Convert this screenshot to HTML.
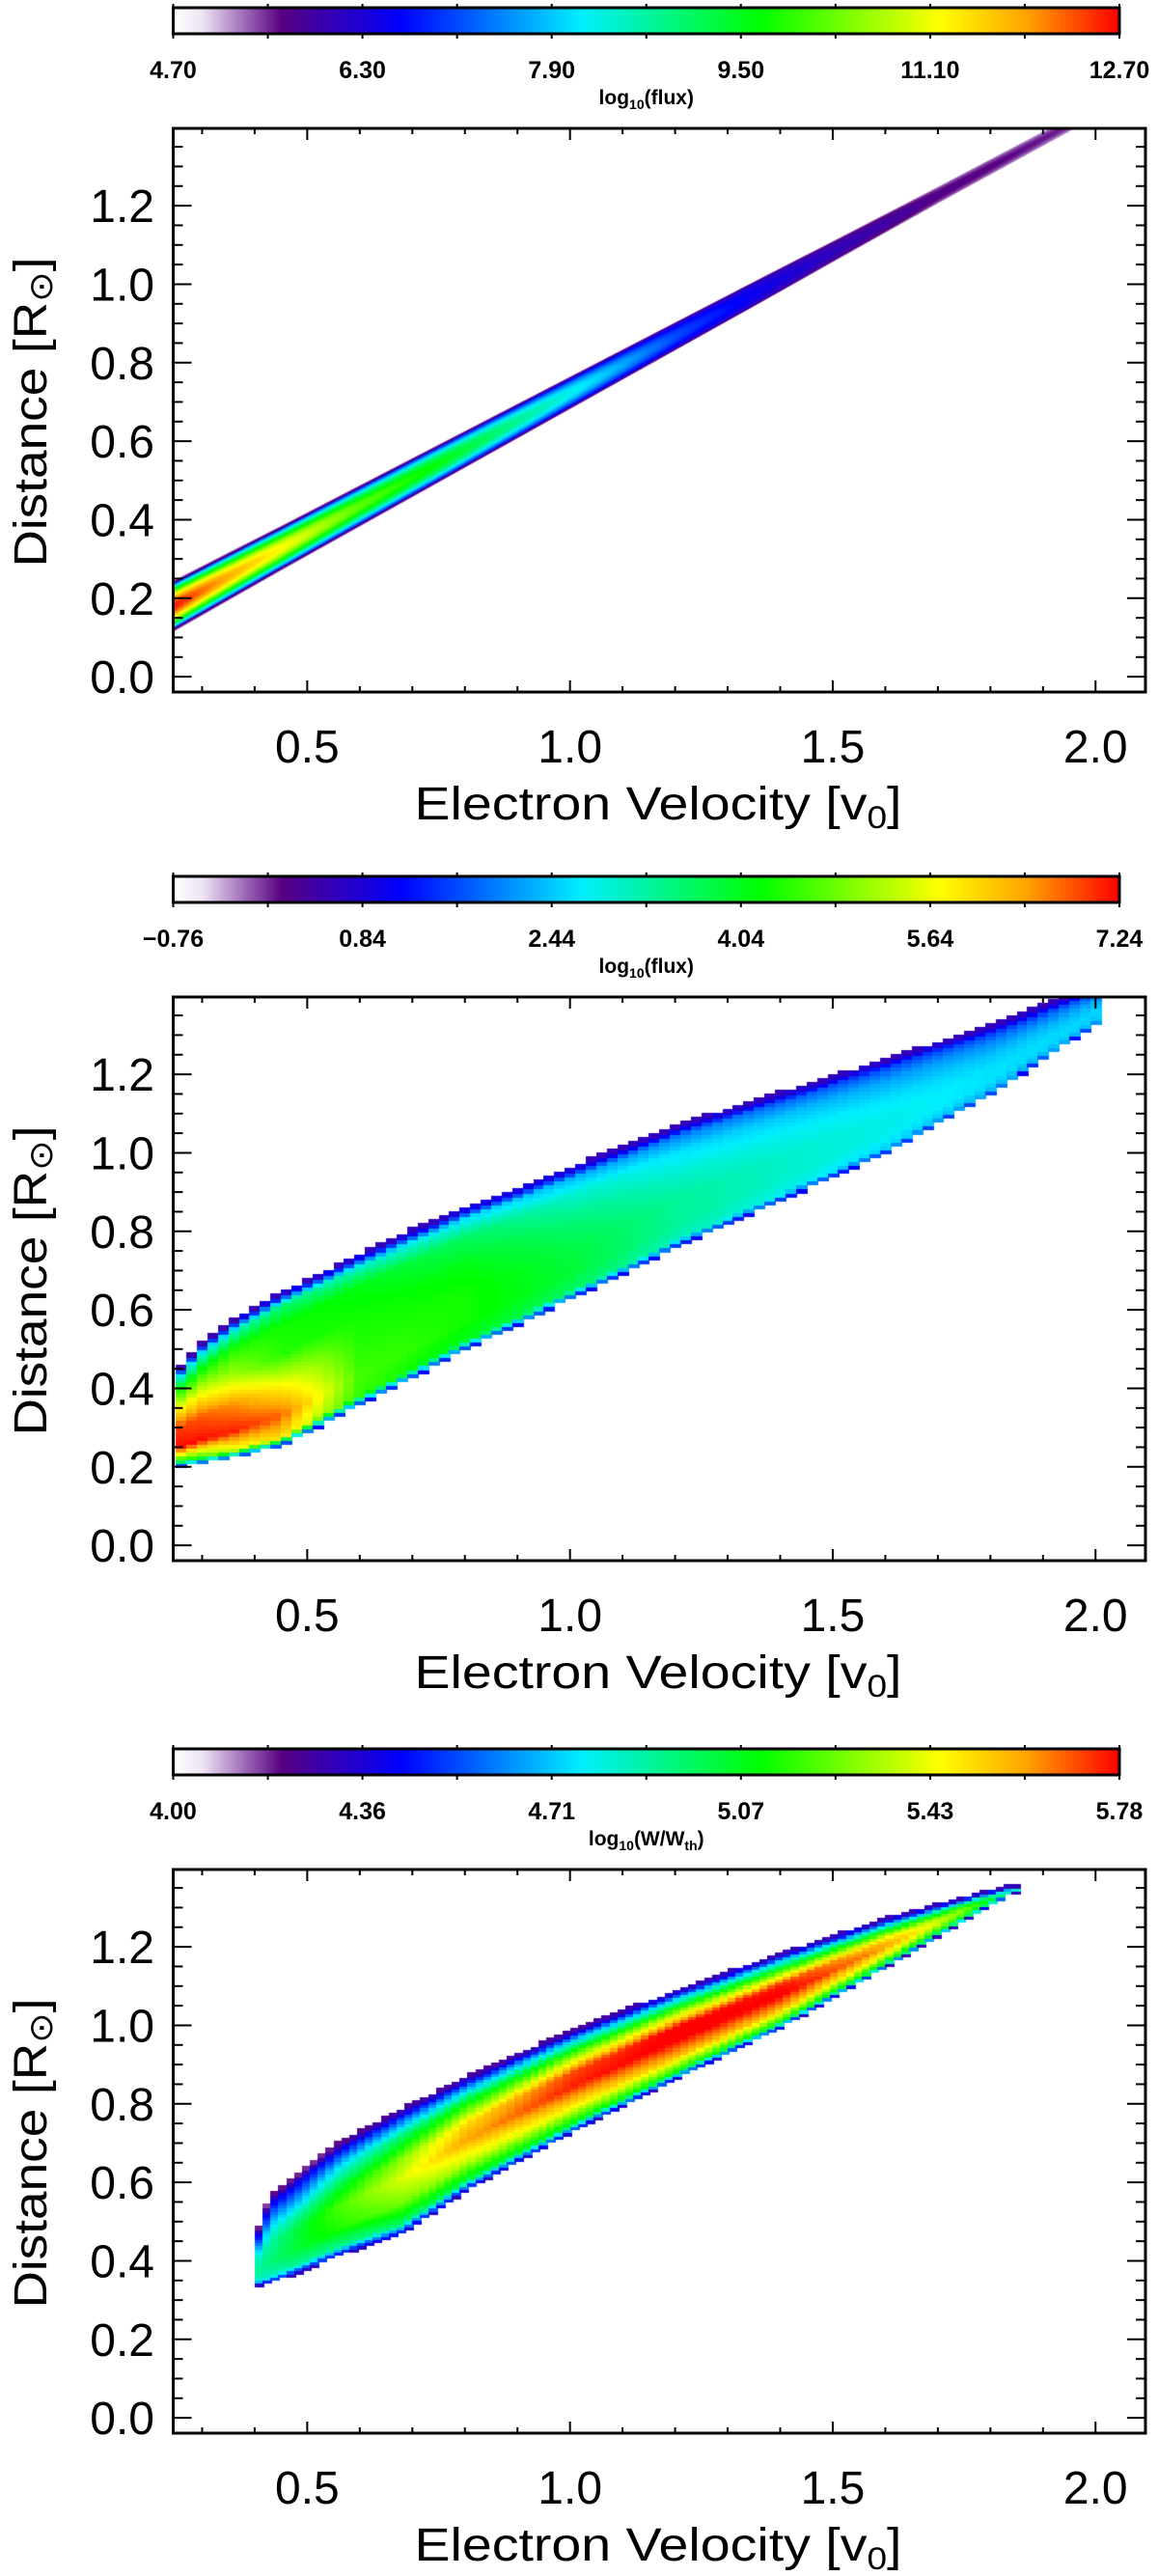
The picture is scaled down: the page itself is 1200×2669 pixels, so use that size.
<!DOCTYPE html>
<html><head><meta charset="utf-8">
<style>
html,body{margin:0;padding:0;background:#fff;}
#wrap{position:relative;width:1200px;height:2669px;overflow:hidden;background:#fff;}
canvas{position:absolute;}
svg{position:absolute;left:0;top:0;}
text{font-family:"Liberation Sans","DejaVu Sans",sans-serif;fill:#000;}
</style></head>
<body>
<div id="wrap">
<canvas id="cb0"></canvas>
<canvas id="cb1"></canvas>
<canvas id="cb2"></canvas>
<canvas id="hm0"></canvas>
<canvas id="hm1"></canvas>
<canvas id="hm2"></canvas>
<svg id="ov" width="1200" height="2669"></svg>
</div>
<script>
// ---------- data ----------
// Panel 1 (smooth band): log10(flux)
const p1Vel = [0.245,0.35,0.45,0.6,0.75,0.9,1.05,1.2,1.35,1.5,1.7,1.97];
const p1Center = [0.18,0.256,0.328,0.436,0.544,0.652,0.76,0.868,0.976,1.084,1.228,1.422];
const p1HalfWidth = [0.062,0.058,0.054,0.05,0.046,0.042,0.038,0.034,0.03,0.026,0.022,0.019];
const p1Peak = [12.6,11.8,11.2,10.2,9.6,8.8,8.0,7.1,6.5,6.1,5.7,5.5];
const cbTicks1 = ['4.70','6.30','7.90','9.50','11.10','12.70'];

// Panel 2 (gridded): log10(flux)
const p2Vel = [0.25,0.3,0.36,0.45,0.6,0.8,1.0,1.2,1.4,1.6,1.8,2.0];
const p2Lower = [0.20,0.21,0.225,0.255,0.36,0.50,0.628,0.76,0.88,1.0,1.15,1.33];
const p2Upper = [0.44,0.515,0.575,0.64,0.74,0.86,0.959,1.065,1.15,1.235,1.32,1.42];
const p2Knots = [0,0.06,0.2,0.4,0.6,0.8,0.93,1];
const p2Values = [
 [1.0,4.0,7.2,7.0,5.8,4.2,2.7,0.5],
 [1.0,4.5,7.2,6.8,5.6,4.2,2.7,0.5],
 [1.0,5.5,7.1,6.5,5.2,4.3,3.0,0.5],
 [1.0,6.0,6.8,5.8,4.4,4.3,3.5,0.6],
 [1.0,4.5,4.6,4.4,4.3,4.1,3.0,0.6],
 [1.0,4.0,4.3,4.3,4.1,3.6,2.6,0.6],
 [1.0,3.6,3.9,3.8,3.5,3.0,2.3,0.6],
 [1.0,3.1,3.3,3.3,3.0,2.6,2.0,0.6],
 [1.0,2.8,3.0,3.0,2.8,2.4,1.8,0.6],
 [1.0,2.5,2.8,2.8,2.6,2.2,1.6,0.6],
 [1.0,2.3,2.6,2.6,2.4,2.0,1.5,0.6],
 [1.0,2.2,2.5,2.5,2.3,1.9,1.4,0.6]];
const cbTicks2 = ['\u22120.76','0.84','2.44','4.04','5.64','7.24'];

// Panel 3 (gridded): log10(W/Wth)
const p3Vel = [0.40,0.43,0.49,0.56,0.68,0.8,1.0,1.2,1.4,1.6,1.75,1.84];
const p3Lower = [0.337,0.345,0.375,0.415,0.47,0.58,0.728,0.865,0.995,1.15,1.27,1.34];
const p3Upper = [0.455,0.568,0.63,0.70,0.785,0.865,0.983,1.085,1.18,1.27,1.325,1.355];
const p3Knots = [0,0.08,0.25,0.45,0.6,0.8,0.93,1];
const p3Values = [
 [4.3,4.8,4.9,4.85,4.75,4.5,4.35,4.2],
 [4.3,4.85,4.95,4.9,4.8,4.55,4.35,4.15],
 [4.3,4.9,5.05,5.05,4.9,4.6,4.4,4.15],
 [4.3,4.9,5.15,5.2,5.05,4.75,4.45,4.2],
 [4.3,4.95,5.25,5.4,5.3,4.95,4.55,4.25],
 [4.3,5.0,5.35,5.6,5.5,5.05,4.6,4.25],
 [4.3,5.05,5.45,5.75,5.7,5.15,4.65,4.25],
 [4.3,5.1,5.55,5.8,5.78,5.2,4.7,4.3],
 [4.3,5.1,5.55,5.8,5.75,5.15,4.7,4.3],
 [4.3,5.0,5.4,5.62,5.5,5.05,4.6,4.3],
 [4.3,4.85,5.15,5.3,5.2,4.9,4.5,4.3],
 [4.3,4.6,4.8,4.85,4.8,4.6,4.4,4.3]];
const cbTicks3 = ['4.00','4.36','4.71','5.07','5.43','5.78'];

const xTickLabels = ['0.5','1.0','1.5','2.0'];
const yTickLabels = ['0.0','0.2','0.4','0.6','0.8','1.0','1.2'];

// ---------- geometry ----------
const OFFS = [0, 900, 1804];
const X0 = 179.5, X1 = 1187, Y0 = 133, Y1 = 717;
const VMIN = 0.245, VMAX = 2.095, DMIN = -0.039, DMAX = 1.397;
const CBX0 = 179.5, CBX1 = 1160, CBY0 = 8, CBY1 = 35;
const RANGES = [[4.70,12.70],[-0.76,7.24],[4.00,5.78]];
function xs(v){ return X0 + (v-VMIN)/(VMAX-VMIN)*(X1-X0); }
function ys(d,o){ return o + Y1 - (d-DMIN)/(DMAX-DMIN)*(Y1-Y0); }

const STOPS = [[0,255,255,255],[0.03,238,228,244],[0.114,88,0,130],[0.24,0,0,255],[0.43,0,238,255],[0.62,0,255,0],[0.81,255,255,0],[0.9,255,165,0],[1,255,0,0]];
function cmap(f){
  f = Math.max(0, Math.min(1, f));
  for (let i=1;i<STOPS.length;i++){
    if (f <= STOPS[i][0]){
      const a=STOPS[i-1], b=STOPS[i], t=(f-a[0])/(b[0]-a[0]);
      return [a[1]+(b[1]-a[1])*t, a[2]+(b[2]-a[2])*t, a[3]+(b[3]-a[3])*t];
    }
  }
  return [255,0,0];
}
function interp(xa, ya, x){
  if (x <= xa[0]) return ya[0];
  if (x >= xa[xa.length-1]) return ya[ya.length-1];
  for (let i=1;i<xa.length;i++){
    if (x <= xa[i]){ const t=(x-xa[i-1])/(xa[i]-xa[i-1]); return ya[i-1]+(ya[i]-ya[i-1])*t; }
  }
}
function prof(velArr, vals, knots, v, t){
  const col = knots.map((_,k)=> interp(velArr, vals.map(r=>r[k]), v));
  return interp(knots, col, t);
}

// ---------- colorbars ----------
for (let p=0;p<3;p++){
  const c = document.getElementById('cb'+p);
  const w = Math.round(CBX1-CBX0), h = CBY1-CBY0;
  c.width = w; c.height = h;
  c.style.left = CBX0+'px'; c.style.top = (OFFS[p]+CBY0)+'px';
  const ctx = c.getContext('2d');
  for (let i=0;i<w;i++){
    const rgb = cmap(i/(w-1));
    ctx.fillStyle = 'rgb('+rgb.map(Math.round).join(',')+')';
    ctx.fillRect(i,0,1,h);
  }
}

// ---------- heatmaps ----------
function setupCanvas(id, o){
  const c = document.getElementById(id);
  c.width = Math.round(X1-X0); c.height = Y1-Y0;
  c.style.left = X0+'px'; c.style.top = (o+Y0)+'px';
  return c.getContext('2d');
}
(function(){
  const o = OFFS[0], ctx = setupCanvas('hm0', o);
  const W = Math.round(X1-X0), H = Y1-Y0;
  const img = ctx.createImageData(W,H);
  const [lo,hi] = RANGES[0];
  for (let px=0; px<W; px++){
    const v = VMIN + (px+0.5)/W*(VMAX-VMIN);
    if (v < p1Vel[0] - 0.01 || v > p1Vel[p1Vel.length-1]) continue;
    const c = interp(p1Vel,p1Center,v), hw = interp(p1Vel,p1HalfWidth,v), pk = interp(p1Vel,p1Peak,v);
    const edge = pk > 6.6 ? 6.0 : pk - 0.5;
    for (let py=0; py<H; py++){
      const d = DMAX - (py+0.5)/H*(DMAX-DMIN);
      const u = Math.abs(d-c)/hw;
      if (u > 1.08) continue;
      let val = pk - (pk-edge)*Math.min(1,u)*Math.min(1,u);
      if (u > 0.9) val = Math.min(val, edge - (u-0.9)*4);
      const rgb = cmap((val-lo)/(hi-lo));
      const a = u > 1 ? Math.max(0, 1-(u-1)/0.08) : 1;
      const idx = (py*W+px)*4;
      img.data[idx]=rgb[0]; img.data[idx+1]=rgb[1]; img.data[idx+2]=rgb[2]; img.data[idx+3]=255*a;
    }
  }
  ctx.putImageData(img,0,0);
})();
function gridPanel(id, o, vel, lower, upper, knots, vals, range, dv, dd){
  const ctx = setupCanvas(id, o);
  const [lo,hi] = range;
  for (let v = vel[0]; v <= vel[vel.length-1]+1e-9; v += dv){
    const vc = v + dv/2;
    const l = interp(vel,lower,vc), u = interp(vel,upper,vc);
    const x0 = xs(v) - X0, x1 = xs(v+dv) - X0;
    for (let d = Math.floor(l/dd)*dd; d <= u; d += dd){
      const dc = d + dd/2;
      if (dc < l || dc > u + dd*0.5) continue;
      const t = Math.max(0, Math.min(1, (dc-l)/(u-l)));
      const val = prof(vel, vals, knots, vc, t);
      const rgb = cmap((val-lo)/(hi-lo));
      ctx.fillStyle = 'rgb('+rgb.map(Math.round).join(',')+')';
      const ya = ys(d+dd,0) - Y0, yb = ys(d,0) - Y0;
      ctx.fillRect(Math.floor(x0), Math.floor(ya), Math.ceil(x1-x0)+1, Math.ceil(yb-ya)+1);
    }
  }
}
gridPanel('hm1', OFFS[1], p2Vel, p2Lower, p2Upper, p2Knots, p2Values, RANGES[1], 0.02, 0.01);
gridPanel('hm2', OFFS[2], p3Vel, p3Lower, p3Upper, p3Knots, p3Values, RANGES[2], 0.015, 0.008);

// ---------- axes overlay ----------
const NS = 'http://www.w3.org/2000/svg';
const svg = document.getElementById('ov');
function el(tag, attrs, parent){
  const e = document.createElementNS(NS, tag);
  for (const k in attrs) e.setAttribute(k, attrs[k]);
  (parent||svg).appendChild(e); return e;
}
function line(x1,y1,x2,y2,w,g){ return el('line',{x1:x1,y1:y1,x2:x2,y2:y2,stroke:'#000','stroke-width':w},g); }
const cbTickSets = [cbTicks1, cbTicks2, cbTicks3];
const cbTitles = [['log','10','(flux)'],['log','10','(flux)'],['log','10','(W/W','th',')']];

for (let p=0;p<3;p++){
  const o = OFFS[p];
  const g = el('g',{});
  
  
  const cbf = el('rect',{x:CBX0,y:o+CBY0,width:CBX1-CBX0,height:CBY1-CBY0,fill:'none',stroke:'#000','stroke-width':3},g);
  
  
  for (let i=0;i<=10;i++){
    const x = CBX0 + i/10*(CBX1-CBX0);
    line(x, o+CBY0-4, x, o+CBY0, 2, g);
    line(x, o+CBY1, x, o+CBY1+5, 2, g);
  }
  const labs = cbTickSets[p];
  for (let i=0;i<labs.length;i++){
    const x = CBX0 + i/(labs.length-1)*(CBX1-CBX0);
    const t = el('text',{x:x,y:o+81,'font-size':25,'text-anchor':'middle','font-weight':'bold'},g);
    t.textContent = labs[i];
    
    
  }
  const ct = el('text',{x:(CBX0+CBX1)/2,y:o+108,'font-size':21,'text-anchor':'middle','font-weight':'bold'},g);
  
  
  const parts = cbTitles[p];
  parts.forEach((s,i)=>{
    const ts = el('tspan', (i%2===1)?{'font-size':14,dy:5}:(i>0?{'font-size':21,dy:-5}:{}), ct);
    ts.textContent = s;
  });
  const fr = el('rect',{x:X0,y:o+Y0,width:X1-X0,height:Y1-Y0,fill:'none',stroke:'#000','stroke-width':3},g);
  
  
  for (let k=3;k<=20;k++){
    const v = k/10, x = xs(v), major = (k%5===0);
    const L = major ? 12 : 6;
    line(x, o+Y1, x, o+Y1-L, 2, g);
    line(x, o+Y0, x, o+Y0+L, 2, g);
  }
  xTickLabels.forEach(s=>{
    const t = el('text',{x:xs(parseFloat(s)),y:o+790,'font-size':48,'text-anchor':'middle'},g);
    t.textContent = s;
    
    
  });
  for (let k=0;k<=27;k++){
    const d = k*0.05, y = ys(d,o), major = (k%4===0);
    const L = major ? 19 : 10;
    line(X0, y, X0+L, y, 2, g);
    line(X1, y, X1-L, y, 2, g);
  }
  yTickLabels.forEach(s=>{
    const t = el('text',{x:160,y:ys(parseFloat(s),o)+17,'font-size':48,'text-anchor':'end'},g);
    t.textContent = s;
    
    
  });
  const xt = el('text',{x:682,y:o+849,'font-size':48,'text-anchor':'middle',textLength:505,lengthAdjust:'spacingAndGlyphs'},g);
  
  
  const a1 = el('tspan',{},xt); a1.textContent='Electron Velocity [v';
  const a2 = el('tspan',{'font-size':32,dy:9},xt); a2.textContent='0';
  const a3 = el('tspan',{dy:-9},xt); a3.textContent=']';
  const cy = o+427;
  const yt = el('text',{x:0,y:0,'font-size':48,'text-anchor':'middle',transform:'translate(48,'+cy+') rotate(-90)',textLength:321,lengthAdjust:'spacingAndGlyphs'},g);
  
  
  const b1 = el('tspan',{},yt); b1.textContent='Distance [R';
  const b2 = el('tspan',{'font-size':34,dy:6},yt); b2.textContent='\u2299';
  const b3 = el('tspan',{dy:-6},yt); b3.textContent=']';
}
</script>
</body></html>
